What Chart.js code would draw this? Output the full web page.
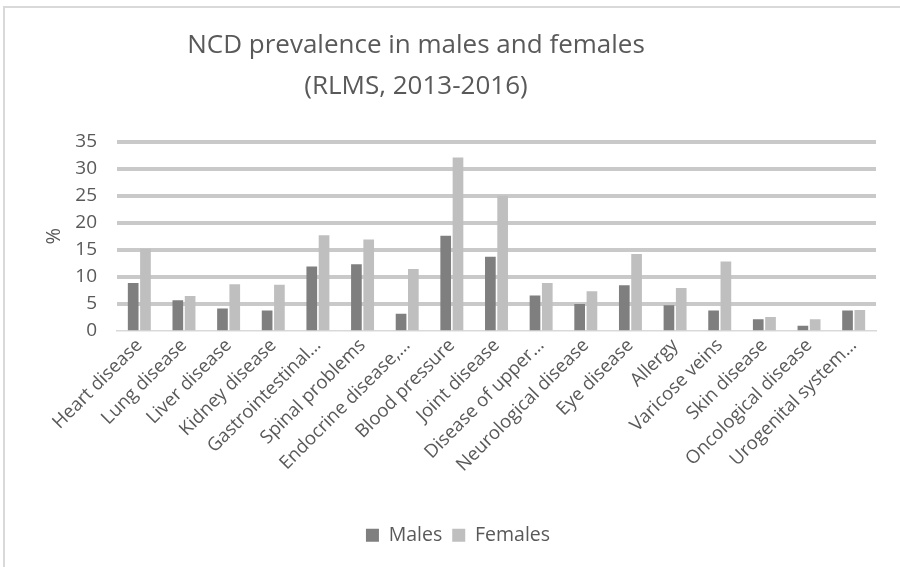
<!DOCTYPE html>
<html>
<head>
<meta charset="utf-8">
<script src="https://cdn.jsdelivr.net/npm/chart.js@4.4.1/dist/chart.umd.min.js"></script>
<style>
  html, body { margin: 0; padding: 0; background: #ffffff; }
  #frame {
    position: absolute; left: 3px; top: 6px; width: 897px; height: 561px;
    border-top: 2px solid #d9d9d9; border-left: 2px solid #d9d9d9;
    box-sizing: border-box;
  }
  #wrap { position: absolute; left: 0; top: 0; width: 900px; height: 567px; }
</style>
</head>
<body>
<div id="frame"></div>
<div id="wrap"><canvas id="c" width="900" height="567"></canvas></div>
<script>
// Disease categories (long names are shortened with an ellipsis)
const categories = [
  'Heart disease', 'Lung disease', 'Liver disease', 'Kidney disease',
  'Gastrointestinal…', 'Spinal problems', 'Endocrine disease,…', 'Blood pressure',
  'Joint disease', 'Disease of upper…', 'Neurological disease', 'Eye disease',
  'Allergy', 'Varicose veins', 'Skin disease', 'Oncological disease', 'Urogenital system…'
];

// Prevalence, %
const males = [8.8, 5.6, 4.1, 3.7, 11.9, 12.3, 3.1, 17.6, 13.7, 6.5, 4.9, 8.4, 4.7, 3.7, 2.1, 0.9, 3.7];
const females = [15.2, 6.4, 8.6, 8.5, 17.7, 16.9, 11.4, 32.1, 25.0, 8.8, 7.3, 14.2, 7.9, 12.8, 2.5, 2.1, 3.8];

// Value axis ticks
const yTicks = [0, 5, 10, 15, 20, 25, 30, 35];

const titleLines = ['NCD prevalence in males and females', '(RLMS, 2013-2016)'];

const TEXT = '#595959';
const FONT = "'Open Sans', 'Noto Sans', sans-serif";

// Two-line chart title drawn above the plot
const titlePlugin = {
  id: 'twoLineTitle',
  afterDraw(chart) {
    const ctx = chart.ctx;
    ctx.save();
    ctx.fillStyle = TEXT;
    ctx.font = "26px " + FONT;
    ctx.textAlign = 'center';
    ctx.textBaseline = 'alphabetic';
    ctx.fillText(titleLines[0], 416, 53);
    ctx.fillText(titleLines[1], 416, 94);
    ctx.restore();
  }
};

// Nudge the legend a little right of the canvas centre
const legendShift = {
  id: 'legendShift',
  afterLayout(chart) {
    if (chart.legend) {
      chart.legend.left += 20;
      chart.legend.right += 20;
    }
  }
};

new Chart(document.getElementById('c'), {
  type: 'bar',
  data: {
    labels: categories,
    datasets: [
      { label: 'Males', data: males, backgroundColor: '#7f7f7f',
        borderWidth: 0, barPercentage: 0.87, categoryPercentage: 0.55 },
      { label: 'Females', data: females, backgroundColor: '#bfbfbf',
        borderWidth: 0, barPercentage: 0.87, categoryPercentage: 0.55 }
    ]
  },
  options: {
    responsive: false,
    animation: false,
    layout: { padding: { left: 0, right: 24, top: 142, bottom: 12 } },
    plugins: {
      title: { display: false },
      tooltip: { enabled: false },
      legend: {
        position: 'bottom',
        labels: {
          color: TEXT,
          font: { family: FONT, size: 19.5 },
          boxWidth: 13, boxHeight: 13,
          padding: 10
        }
      }
    },
    scales: {
      x: {
        grid: { display: false, drawTicks: false },
        border: { display: true, color: '#d9d9d9', width: 1.5 },
        ticks: {
          color: TEXT,
          font: { family: FONT, size: 18.5 },
          minRotation: 45, maxRotation: 45,
          autoSkip: false, padding: 4
        },
        afterFit(scale) { scale.height = 185; }
      },
      y: {
        min: 0, max: 35,
        afterBuildTicks(scale) { scale.ticks = yTicks.map(v => ({ value: v })); },
        grid: {
          color: '#c9c9c9',
          lineWidth: ctx => (ctx.tick && ctx.tick.value === 0) ? 0 : 4,
          drawTicks: false
        },
        border: { display: false },
        ticks: {
          color: TEXT,
          font: { family: FONT, size: 19 },
          padding: 20
        },
        title: {
          display: true, text: '%', color: TEXT,
          font: { family: FONT, size: 20 }, padding: { top: 42, bottom: 0 }
        },
        afterFit(scale) { scale.width = 117; }
      }
    }
  },
  plugins: [titlePlugin, legendShift]
});
</script>
</body>
</html>
